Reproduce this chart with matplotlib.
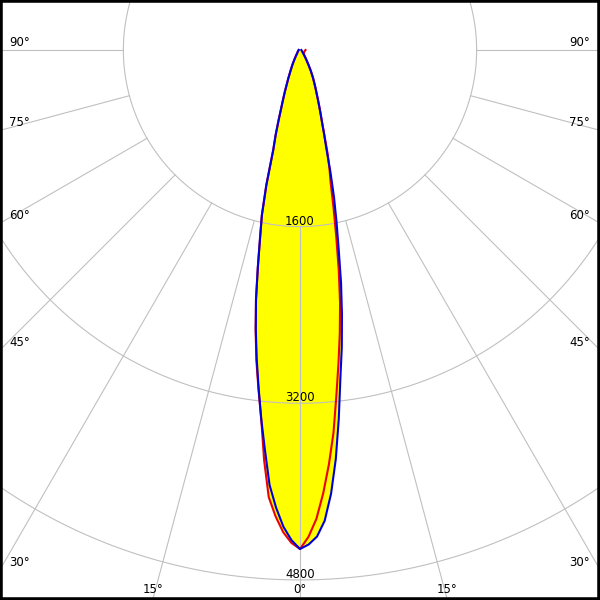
import numpy as np
import matplotlib
matplotlib.use("Agg")
import matplotlib.pyplot as plt

# Gamma angles (degrees from nadir)
gamma = [0, 1, 2, 3, 4, 5, 6, 7, 8, 9, 10, 11, 12, 13, 14, 15, 16, 17, 18, 19, 20,
         22.5, 25, 27.5, 30, 35, 40, 50, 60, 70, 80, 90]

# Luminous intensity (cd) for each half-plane
c0 = [4520, 4480, 4410, 4270, 4030, 3720, 3360, 3000, 2720, 2430, 2140, 1835, 1590, 1370, 1140, 920,
      790, 680, 600, 530, 470, 360, 280, 210, 150, 85, 50, 28, 20, 16, 14, 12]
c180 = [4520, 4440, 4320, 4150, 3950, 3640, 3360, 3080, 2820, 2560, 2295, 2000, 1740, 1535, 1260, 935,
        800, 660, 545, 465, 400, 275, 195, 145, 105, 65, 42, 28, 20, 16, 14, 12]
c90 = [4520, 4410, 4250, 4020, 3760, 3480, 3150, 2860, 2590, 2320, 2020, 1720, 1460, 1236, 1100, 960,
       800, 680, 600, 530, 470, 360, 280, 210, 150, 90, 60, 45, 42, 42, 45, 50]
c270 = [4520, 4465, 4370, 4230, 4060, 3730, 3360, 3090, 2840, 2570, 2295, 2000, 1740, 1535, 1260, 935,
        800, 660, 545, 465, 400, 275, 195, 145, 105, 65, 42, 28, 20, 16, 14, 12]

rings = [1600, 3200, 4800]
ring_labels = ["1600", "3200", "4800"]
spoke_angles = [0, 15, 30, 45, 60, 75, 90]
spoke_labels = ["0°", "15°", "30°", "45°", "60°", "75°", "90°"]

PX = 0.1104  # pixels per cd
W, H = 600, 600
cx, cy = 300, 50
xmin, xmax = -cx / PX, (W - cx) / PX
ymin, ymax = -(H - cy) / PX, cy / PX

fig = plt.figure(figsize=(6, 6), dpi=100)
ax = fig.add_axes([0, 0, 1, 1])
ax.set_xlim(xmin, xmax)
ax.set_ylim(ymin, ymax)
ax.set_aspect("equal")
ax.set_xticks([])
ax.set_yticks([])
for s in ax.spines.values():
    s.set_color("black")
    s.set_linewidth(4)
    s.set_zorder(10)


def curve(left, right):
    g = np.radians(gamma)
    L = np.array(left, float)
    R = np.array(right, float)
    xl = -L * np.sin(g)
    yl = -L * np.cos(g)
    xr = R * np.sin(g)
    yr = -R * np.cos(g)
    x = np.concatenate([xl[::-1], xr[1:]])
    y = np.concatenate([yl[::-1], yr[1:]])
    return x, y


bx, by = curve(c180, c0)
rx, ry = curve(c270, c90)

ax.fill(bx, by, color="#ffff00", lw=0, zorder=1)
ax.fill(rx, ry, color="#ffff00", lw=0, zorder=1)

grid_col = "#c0c0c0"
t = np.linspace(0, 2 * np.pi, 720)
for r in rings:
    ax.plot(r * np.cos(t), r * np.sin(t), color=grid_col, lw=0.8, zorder=2)

for a in spoke_angles:
    for sgn in ([1] if a == 0 else [-1, 1]):
        ar = np.radians(a)
        ax.plot([sgn * rings[0] * np.sin(ar), sgn * 8000 * np.sin(ar)],
                [-rings[0] * np.cos(ar), -8000 * np.cos(ar)],
                color=grid_col, lw=0.8, zorder=2)

fs = 8.5
for r, lab in zip(rings, ring_labels):
    ax.annotate(lab, (0, -r), xytext=(0, 2), textcoords="offset pixels",
                ha="center", va="baseline", fontsize=fs, zorder=3)

for a, lab in zip(spoke_angles, spoke_labels):
    ar = np.radians(a)
    s, c = np.sin(ar), np.cos(ar)
    if c > 1e-9 and (xmax / s if s > 1e-9 else np.inf) * c > -ymin:
        # spoke meets the bottom edge
        tb = -ymin / c
        xb = tb * s
        for sgn in ([1] if a == 0 else [-1, 1]):
            ax.annotate(lab, (sgn * xb, ymin), xytext=(0, 7), textcoords="offset pixels",
                        ha="center", va="baseline", fontsize=fs, zorder=3)
    else:
        ts = xmax / s
        ys = -ts * c
        ax.annotate(lab, (xmin, ys), xytext=(9, 4), textcoords="offset pixels",
                    ha="left", va="baseline", fontsize=fs, zorder=3)
        ax.annotate(lab, (xmax, ys), xytext=(-10, 4), textcoords="offset pixels",
                    ha="right", va="baseline", fontsize=fs, zorder=3)

ax.plot(rx, ry, color="#ee0000", lw=1.5, zorder=4, solid_joinstyle="round")
ax.plot(bx, by, color="#0000dd", lw=1.5, zorder=5, solid_joinstyle="round")

fig.savefig("out.png", dpi=100)
